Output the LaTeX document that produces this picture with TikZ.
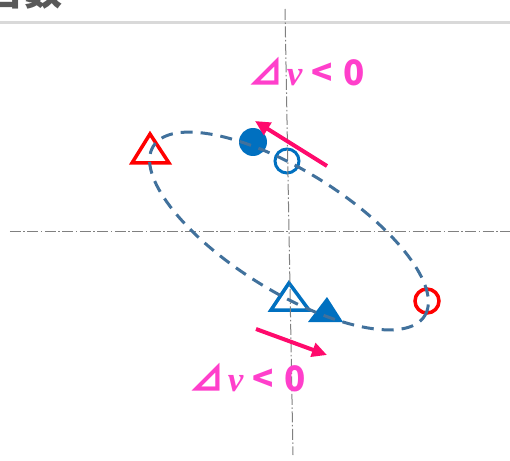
\documentclass[tikz,border=0pt]{standalone}
\usepackage{fontspec}
\usetikzlibrary{arrows.meta}
\newfontfamily\jpfont{Noto Sans CJK JP}
\newfontfamily\nufont{Liberation Serif}
\definecolor{Orbit}{HTML}{41719C}
\definecolor{MarkBlue}{HTML}{0070C0}
\definecolor{MarkRed}{HTML}{FF0000}
\definecolor{Push}{HTML}{FF0A6C}
\definecolor{Label}{HTML}{FF3FCB}
\definecolor{AxisGray}{HTML}{808080}
\definecolor{Rule}{HTML}{D9D9D9}
\definecolor{Head}{HTML}{595959}
\newcommand{\dnu}{{\jpfont\bfseries ⊿}\hspace{3pt}{\nufont\bfseries\itshape ν}\hspace{9pt}{\jpfont\bfseries <}\hspace{11pt}{\jpfont\bfseries 0}}

\begin{document}
\begin{tikzpicture}[x=1pt,y=1pt,
    axis/.style={AxisGray, line width=1pt, dash pattern=on 11pt off 2.5pt on 1.5pt off 2.5pt},
    orbit/.style={Orbit, line width=3pt, dash pattern=on 12pt off 8pt},
    push/.style={Push, line width=4pt, -{Triangle[length=15pt,width=14pt]}},
    tag/.style={text=Label, inner sep=0pt, font=\fontsize{35}{40}\selectfont},
    ring/.style={circle, draw=#1, line width=3pt, inner sep=0pt, minimum size=24pt},
    trimark/.style={draw=#1, line width=3.5pt, line join=miter}]
  \clip (-289,-229) rectangle (221,231);
  % header remains
  \draw[Rule, line width=3pt] (-289,208) -- (221,208);
  \node[anchor=south east, inner sep=0pt, text=Head, font=\jpfont\bfseries\fontsize{38}{40}\selectfont] (hdr) at (-226,222) {台数};
  % markers
  \node[circle, fill=MarkBlue, inner sep=0pt, minimum size=28pt] (dot) at (-36,89) {};
  \node[ring=MarkBlue] (ring) at (-2,70) {};
  \node[ring=MarkRed, line width=3.5pt] (redring) at (138,-70) {};
  \draw[trimark=MarkRed] (-139,97) -- (-157,68) -- (-120,68) -- cycle;
  \draw[trimark=MarkBlue] (0,-52) -- (-18,-79) -- (20,-79) -- cycle;
  \fill[MarkBlue] (38,-66) -- (19,-91) -- (54,-91) -- cycle;
  % axes
  \coordinate (ytop) at (-4,222);
  \coordinate (ybot) at (4,-224);
  \coordinate (xleft) at (-279,0);
  \coordinate (xright) at (221,0);
  \draw[axis] (ytop) -- (ybot);
  \draw[axis] (xleft) -- (xright);
  % orbit
  \draw[orbit, rotate=-32] (0,0) ellipse (160 and 60);
  % kicks
  \coordinate (ka) at (38,65);
  \coordinate (kb) at (-34,110);
  \coordinate (kc) at (-33,-98);
  \coordinate (kd) at (38,-124);
  \draw[push] (ka) -- (kb);
  \draw[push] (kc) -- (kd);
  \node[tag] (upper) at (18,159) {\dnu};
  \node[tag] (lower) at (-41,-147) {\dnu};
\end{tikzpicture}
\end{document}
